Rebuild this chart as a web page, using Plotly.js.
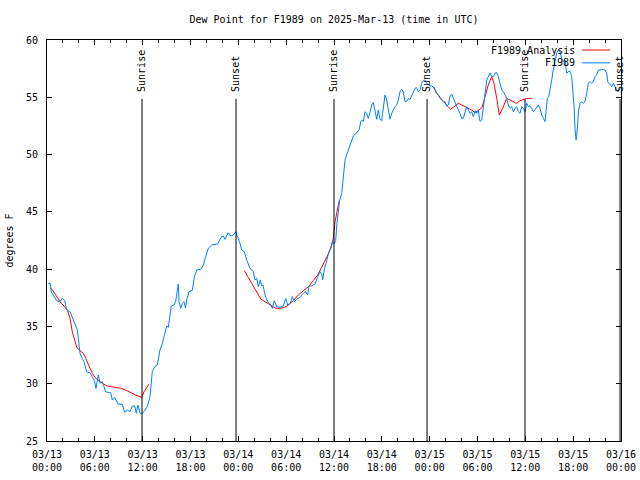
<!DOCTYPE html>
<html><head><meta charset="utf-8">
<script src="https://cdn.plot.ly/plotly-3.0.1.min.js"></script>
<style>html,body{margin:0;padding:0;background:#fff}#chart{width:640px;height:480px}</style>
</head><body><div id="chart"></div>
<script>
// hours after 2025-03-13 00:00 UTC
const obsHours = [0.13,0.38,0.54,0.88,1.22,1.63,1.92,2.22,2.47,2.89,3.17,3.47,3.80,3.93,4.14,4.43,4.64,4.98,5.39,5.68,5.90,6.15,6.44,6.65,6.94,7.36,7.78,7.99,8.19,8.49,8.91,9.45,9.75,10.07,10.41,10.70,11.00,11.20,11.41,11.67,11.88,12.17,12.58,12.92,13.21,13.51,13.84,14.17,14.46,14.76,15.02,15.22,15.43,15.59,15.93,16.14,16.34,16.47,16.56,16.77,16.97,17.19,17.37,17.56,17.81,18.23,18.48,18.78,19.32,19.61,19.91,20.23,20.66,21.41,21.83,22.12,22.33,22.74,23.04,23.37,23.67,24.00,24.21,24.42,24.75,25.05,25.46,25.88,26.09,26.30,26.51,26.76,26.93,27.09,27.35,27.68,27.97,28.26,28.51,28.81,29.23,29.64,29.94,30.19,30.52,30.77,31.02,31.32,31.74,32.15,32.45,32.70,32.87,33.20,33.62,33.96,34.24,34.46,34.58,34.78,34.96,35.21,35.37,35.62,35.79,36.04,36.21,36.37,36.54,36.71,36.97,37.17,37.38,37.59,37.80,38.01,38.22,38.42,38.85,39.17,39.35,39.47,39.68,39.89,40.10,40.30,40.52,40.73,40.93,41.14,41.36,41.56,41.77,41.98,42.18,42.40,42.61,42.81,43.03,43.24,43.44,43.65,43.87,44.07,44.28,44.49,44.69,44.91,45.12,45.32,45.53,45.75,45.95,46.16,46.37,46.58,46.79,47.00,47.20,47.42,47.63,47.83,48.04,48.26,48.46,48.67,48.88,49.08,49.30,49.51,49.71,49.92,50.14,50.34,50.55,50.76,50.97,51.18,51.39,51.59,51.81,52.02,52.22,52.43,52.65,52.85,53.06,53.27,53.48,53.69,53.90,54.10,54.31,54.53,54.73,54.94,55.16,55.57,55.78,55.98,56.20,56.41,56.61,56.82,57.04,57.24,57.45,57.66,57.87,58.08,58.29,58.50,58.71,58.92,59.12,59.33,59.54,59.75,59.96,60.17,60.38,60.59,60.80,61.00,61.21,61.43,61.63,61.84,62.05,62.26,62.47,62.59,62.76,62.93,63.10,63.31,63.51,63.72,63.94,64.14,64.35,64.56,64.77,64.98,65.19,65.40,65.60,65.82,66.02,66.11,66.23,66.36,66.44,66.57,66.69,66.86,67.07,67.27,67.49,67.70,67.90,68.11,68.33,68.53,68.74,68.95,69.16,69.37,69.79,70.00,70.21,70.34,70.63,70.84,71.04,71.25,71.46,71.67,71.87];
const obsDewF = [38.7,38.8,38.0,37.65,37.25,37.16,37.45,37.25,36.43,36.29,35.8,35.21,34.69,33.96,32.65,32.2,31.92,31.05,30.96,30.61,30.32,29.6,30.76,30.04,30.18,29.3,29.22,29.2,28.58,28.8,28.23,28.2,27.5,27.7,27.56,28.05,28.05,27.42,28.14,27.42,27.36,27.56,28.0,28.87,31.05,31.5,31.63,32.94,33.5,34.4,35.04,34.92,36.29,36.78,36.87,37.16,38.12,38.7,37.16,36.58,37.0,37.16,36.6,37.4,38.03,38.15,39.34,39.93,39.99,40.36,41.1,41.82,42.11,42.2,42.78,42.89,42.6,43.18,42.89,42.98,43.27,42.69,42.25,41.67,41.52,40.8,40.07,39.78,39.05,39.2,38.47,39.05,38.53,38.6,37.74,37.16,37.0,36.58,37.25,36.72,36.67,36.78,37.45,36.87,37.0,37.6,37.16,37.37,37.54,37.89,38.03,37.74,38.53,38.53,38.7,39.34,39.78,39.58,39.05,39.93,40.51,41.1,41.52,41.82,42.4,42.2,42.5,44.0,45.16,46.03,46.6,48.2,49.5,49.96,50.4,50.84,51.27,51.62,51.9,52.2,52.87,53.0,52.9,53.74,53.6,53.17,53.7,54.33,54.53,53.74,53.08,53.89,53.08,52.96,54.04,55.2,54.76,53.74,53.08,53.6,53.9,54.18,54.33,54.76,55.49,55.7,55.49,54.62,54.62,54.9,54.8,55.1,55.5,55.78,55.85,55.5,55.64,56.22,56.45,56.5,56.2,56.07,55.98,55.98,55.9,55.7,55.35,55.2,54.9,54.76,54.62,54.62,54.24,54.33,55.05,55.29,54.9,54.53,54.18,53.9,53.6,53.17,53.17,53.6,54.18,53.9,53.6,53.74,53.3,53.83,53.6,53.83,52.9,53.0,54.18,55.64,56.5,57.1,56.8,56.8,57.1,57.15,56.8,56.22,55.64,55.5,55.2,54.9,54.33,54.04,54.18,53.74,54.04,54.18,53.74,53.6,54.18,54.04,53.74,54.47,54.18,54.24,54.04,53.74,53.9,54.18,54.33,54.04,53.45,53.17,52.87,53.74,54.9,55.05,55.64,56.5,57.44,58.25,58.84,59.13,58.99,58.4,58.1,58.25,57.1,57.25,57.25,56.8,55.05,54.18,52.29,51.27,51.56,53.0,53.89,54.47,54.62,54.47,54.62,55.35,56.22,56.36,56.22,56.36,56.8,56.95,57.38,57.38,57.44,57.38,57.1,56.36,56.07,55.92,56.22,55.92,55.64,55.5,55.78];
const anaHours = [0.54,1.09,1.63,2.13,2.55,2.89,3.17,3.47,3.73,4.14,4.55,4.85,5.27,5.68,6.11,6.52,6.94,7.56,8.40,9.24,9.87,10.50,11.13,11.67,11.88,12.17,12.58,12.79,null,24.75,25.05,25.46,25.80,26.09,26.43,26.84,27.35,27.76,28.26,28.69,29.23,29.77,30.27,30.90,31.52,32.15,32.78,33.40,33.96,34.46,34.87,35.29,35.71,35.91,36.13,36.34,36.54,36.67,null,48.46,48.55,48.88,49.30,49.71,50.21,50.63,51.05,51.59,52.02,52.43,52.85,53.27,53.69,54.10,54.56,54.94,55.35,55.78,56.07,56.41,56.74,57.16,57.66,58.08,58.50,58.92,59.33,59.75,60.17,60.80];
const anaDewF = [38.33,37.74,37.16,36.78,36.43,35.71,34.54,33.81,33.18,32.88,32.65,32.22,31.49,30.91,30.47,30.24,30.04,29.8,29.69,29.6,29.45,29.22,29.0,28.87,28.8,29.3,29.74,29.97,null,39.87,39.5,39.12,38.7,38.33,37.83,37.37,37.16,36.96,36.72,36.58,36.58,36.67,36.87,37.25,37.74,38.12,38.47,38.99,39.5,40.16,40.74,41.32,42.11,42.69,44.14,44.87,45.89,46.03,null,55.9,55.78,55.35,55.0,54.62,54.24,53.95,54.18,54.47,54.33,54.18,54.04,53.89,53.65,53.83,54.1,55.05,56.07,56.8,56.2,54.9,53.45,54.04,54.9,54.76,54.62,54.47,54.7,54.82,54.9,54.9];
const sunriseHours = [11.92, 36.0, 59.96];
const sunsetHours = [23.71, 47.67, 71.88];
const seriesNames = ['F1989 Analysis', 'F1989'];
const seriesColors = ['#ff0000', '#0080ff'];
const chartTitle = 'Dew Point for F1989 on 2025-Mar-13 (time in UTC)';

const startUTC = Date.UTC(2025, 2, 13);
function toStamp(h) {
  if (h === null) return null;
  const d = new Date(startUTC + Math.round(h * 3600000));
  return d.toISOString().slice(0, 19).replace('T', ' ');
}
const FONT = 'DejaVu Sans Mono, Liberation Mono, monospace';

const traces = [
  {x: anaHours.map(toStamp), y: anaDewF, type: 'scatter', mode: 'lines', name: seriesNames[0],
   line: {color: seriesColors[0], width: 1}, connectgaps: false, showlegend: false},
  {x: obsHours.map(toStamp), y: obsDewF, type: 'scatter', mode: 'lines', name: seriesNames[1],
   line: {color: seriesColors[1], width: 1}, showlegend: false}
];

const shapes = [];
const annotations = [];
const sunEvents = sunriseHours.map(h => ['Sunrise', h]).concat(sunsetHours.map(h => ['Sunset', h]));
sunEvents.forEach(([label, h]) => {
  const t = toStamp(h);
  shapes.push({type: 'line', xref: 'x', yref: 'paper', x0: t, x1: t, y0: 0, y1: 0.853,
               line: {color: '#000', width: 1}});
  annotations.push({text: label, xref: 'x', yref: 'paper', x: t, y: 0.868, textangle: -90,
                    xanchor: 'center', yanchor: 'bottom', showarrow: false,
                    font: {family: FONT, size: 10, color: '#000'}, borderpad: 0});
});
// legend (text left of line sample, as in the reference)
const legendY = [0.975, 0.943];
seriesNames.forEach((nm, i) => {
  annotations.push({text: nm, xref: 'paper', yref: 'paper', x: 0.921, y: legendY[i],
                    xanchor: 'right', yanchor: 'middle', showarrow: false, borderpad: 0,
                    font: {family: FONT, size: 10, color: '#000'}});
  shapes.push({type: 'line', xref: 'paper', yref: 'paper', x0: 0.932, x1: 0.981,
               y0: legendY[i], y1: legendY[i], line: {color: seriesColors[i], width: 1}});
});

const layout = {
  width: 640, height: 480,
  margin: {l: 47, r: 19, t: 40, b: 39, pad: 0},
  paper_bgcolor: '#fff', plot_bgcolor: '#fff',
  font: {family: FONT, size: 10, color: '#000'},
  showlegend: false,
  title: {text: chartTitle, x: 0.5, xref: 'paper', y: 0.96, yref: 'container',
          xanchor: 'center', yanchor: 'middle', font: {family: FONT, size: 10, color: '#000'}},
  xaxis: {
    type: 'date', range: [toStamp(0), toStamp(72)],
    dtick: 6 * 3600000, tick0: toStamp(0), tickformat: '%m/%d<br>%H:%M',
    ticks: 'inside', ticklen: 5, tickcolor: '#000', tickwidth: 1,
    minor: {dtick: 2 * 3600000, ticks: 'inside', ticklen: 3, tickcolor: '#000', tickwidth: 1},
    showline: true, linecolor: '#000', linewidth: 1, mirror: 'ticks',
    showgrid: false, zeroline: false, ticklabelstandoff: 4,
    tickfont: {family: FONT, size: 10, color: '#000'}
  },
  yaxis: {
    range: [25, 60], dtick: 5, tick0: 25,
    ticks: 'inside', ticklen: 5, tickcolor: '#000', tickwidth: 1,
    showline: true, linecolor: '#000', linewidth: 1, mirror: 'ticks',
    showgrid: false, zeroline: false, ticklabelstandoff: 6,
    tickfont: {family: FONT, size: 10, color: '#000'},
    title: {text: 'degrees F', standoff: 10, font: {family: FONT, size: 10, color: '#000'}}
  },
  shapes: shapes,
  annotations: annotations
};

Plotly.newPlot('chart', traces, layout, {staticPlot: true, displayModeBar: false});
</script>
</body></html>
